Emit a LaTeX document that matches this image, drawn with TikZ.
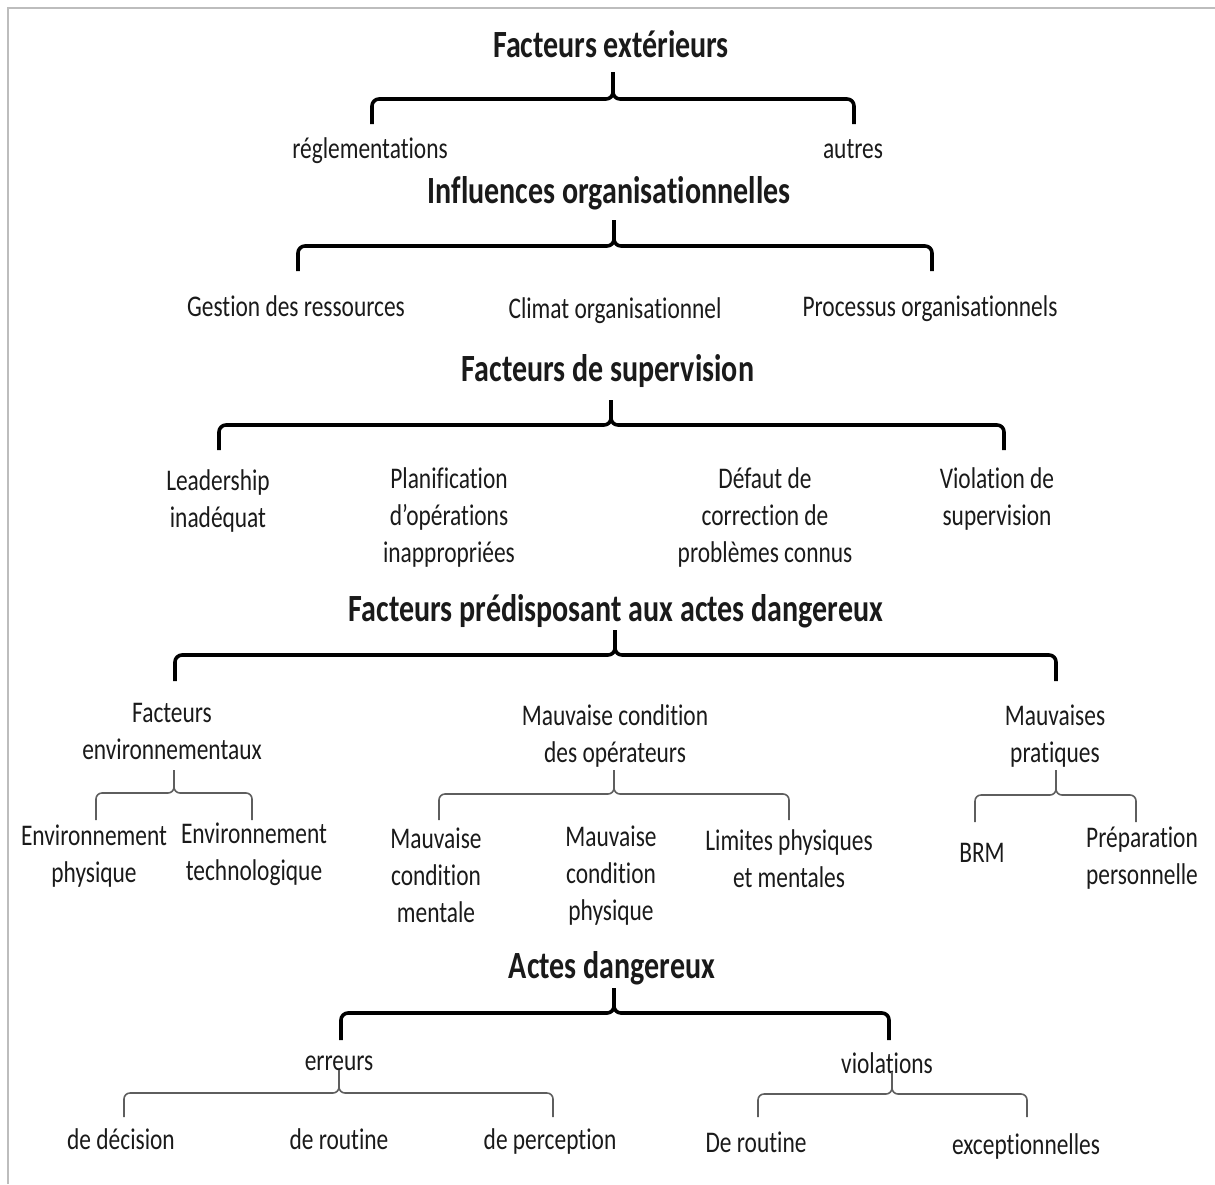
\documentclass[tikz,border=0pt]{standalone}
\usepackage{fontspec}
\setmainfont{Carlito}[FakeStretch=0.78, Ligatures=NoCommon]
\usetikzlibrary{calc}
\definecolor{txt}{HTML}{1A1A1A}
\definecolor{subline}{HTML}{5E5E5E}
\definecolor{frame}{HTML}{BDBDBD}
% horizontal brace: style, tip x, tip y, bar y, left x, right x, leg end y
\newcommand{\treebrace}[7]{%
  \coordinate (tip) at (#2,#3);
  \coordinate (lft) at (#5,#7);
  \coordinate (rgt) at (#6,#7);
  \draw[#1] (tip) |- (#5,#4) -- (lft);
  \draw[#1] (tip) |- (#6,#4) -- (rgt);
}
\begin{document}
\begin{tikzpicture}[x=1pt,y=-1pt,
  heading/.style={anchor=base, inner sep=0pt, text=txt,
    font=\bfseries\fontsize{38.5}{44}\selectfont},
  % multi-line items are placed by the baseline of their last line
  item/.style={anchor=base, inner sep=0pt, text=txt, align=center,
    font=\fontsize{30}{37}\selectfont},
  mainbrace/.style={line width=3.6pt, black, rounded corners=7pt},
  subbrace/.style={line width=1.6pt, subline, rounded corners=6pt}]
\useasboundingbox (0,0) rectangle (1215,1184);
% frame edges
\draw[frame, line width=2pt] (8,1184) -- (8,8) -- (1215,8);

% level 1
\node[heading] (h1) at (611,57) {Facteurs extérieurs};
\treebrace{mainbrace}{613}{72}{99}{372}{854}{124}
\node[item] (reg) at (370,158) {réglementations};
\node[item] (aut) at (853,158) {autres};

% level 2
\node[heading] (h2) at (609,203) {Influences organisationnelles};
\treebrace{mainbrace}{614}{220}{246}{298}{932}{271}
\node[item] (ges) at (296,316) {Gestion des ressources};
\node[item] (cli) at (615,318) {Climat organisationnel};
\node[item] (pro) at (930,316) {Processus organisationnels};

% level 3
\node[heading] (h3) at (608,381) {Facteurs de supervision};
\treebrace{mainbrace}{611}{400}{425}{219}{1004}{450}
\node[item] (lea) at (218,527) {Leadership\\inadéquat};
\node[item] (pla) at (449,562) {Planification\\d’opérations\\inappropriées};
\node[item] (def) at (765,562) {Défaut de\\correction de\\problèmes connus};
\node[item] (vio) at (997,525) {Violation de\\supervision};

% level 4
\node[heading] (h4) at (616,621) {Facteurs prédisposant aux actes dangereux};
\treebrace{mainbrace}{615}{630}{655}{175}{1056}{681}
\node[item] (env) at (172,759) {Facteurs\\environnementaux};
\node[item] (ope) at (615,762) {Mauvaise condition\\des opérateurs};
\node[item] (pra) at (1055,762) {Mauvaises\\pratiques};

\treebrace{subbrace}{174}{770}{793}{96}{252}{820}
\node[item] (ephy) at (94,882) {Environnement\\physique};
\node[item] (etec) at (254,880) {Environnement\\technologique};

\treebrace{subbrace}{614}{770}{794}{439}{789}{820}
\node[item] (mcm) at (436,922) {Mauvaise\\condition\\mentale};
\node[item] (mcp) at (611,920) {Mauvaise\\condition\\physique};
\node[item] (lim) at (789,887) {Limites physiques\\et mentales};

\treebrace{subbrace}{1056}{770}{795}{975}{1136}{822}
\node[item] (brm) at (982,862) {BRM};
\node[item] (prep) at (1142,884) {Préparation\\personnelle};

% level 5
\node[heading] (h5) at (612,978) {Actes dangereux};
\treebrace{mainbrace}{614}{988}{1013}{341}{889}{1040}
\node[item] (err) at (339,1070) {erreurs};
\node[item] (vls) at (887,1073) {violations};

\treebrace{subbrace}{339}{1070}{1093}{124}{553}{1117}
\node[item] (dec) at (121,1149) {de décision};
\node[item] (rou) at (339,1149) {de routine};
\node[item] (per) at (550,1149) {de perception};

\treebrace{subbrace}{892}{1072}{1094}{758}{1027}{1117}
\node[item] (drou) at (756,1152) {De routine};
\node[item] (exc) at (1026,1154) {exceptionnelles};
\end{tikzpicture}
\end{document}
